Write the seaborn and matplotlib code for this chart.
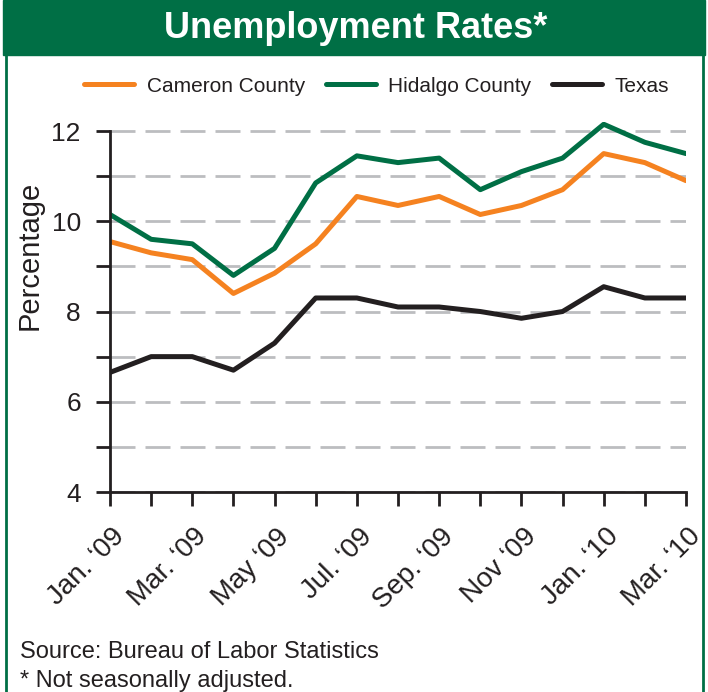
import pandas as pd
import matplotlib.pyplot as plt
import matplotlib.transforms as mtransforms
from matplotlib.patches import Rectangle
from matplotlib.lines import Line2D
import seaborn as sns

# Data (monthly, not seasonally adjusted)
months = ["Jan. ‘09", "Feb. ‘09", "Mar. ‘09", "Apr. ‘09", "May ‘09", "Jun. ‘09",
          "Jul. ‘09", "Aug. ‘09", "Sep. ‘09", "Oct. ‘09", "Nov ‘09", "Dec. ‘09",
          "Jan. ‘10", "Feb. ‘10", "Mar. ‘10"]
cameron = [9.55, 9.3, 9.15, 8.4, 8.85, 9.5, 10.55, 10.35, 10.55, 10.15, 10.35, 10.7, 11.5, 11.3, 10.9]
hidalgo = [10.15, 9.6, 9.5, 8.8, 9.4, 10.85, 11.45, 11.3, 11.4, 10.7, 11.1, 11.4, 12.15, 11.75, 11.5]
texas = [6.65, 7.0, 7.0, 6.7, 7.3, 8.3, 8.3, 8.1, 8.1, 8.0, 7.85, 8.0, 8.55, 8.3, 8.3]

series_names = ["Cameron County", "Hidalgo County", "Texas"]
series_colors = ["#F58220", "#006F45", "#231F20"]

df = pd.DataFrame({
    "month": list(range(len(months))) * 3,
    "rate": cameron + hidalgo + texas,
    "series": [n for n in series_names for _ in months],
})

sns.set_style("white")
plt.rcParams["font.family"] = ["Liberation Sans", "DejaVu Sans"]

green = "#006F45"
ink = "#231F20"

fig = plt.figure(figsize=(7.08, 6.92), dpi=100)
ax = fig.add_axes([110 / 708, 1 - 492 / 692, 576 / 708, 370 / 692])

sns.lineplot(data=df, x="month", y="rate", hue="series", hue_order=series_names,
             palette=series_colors, linewidth=3.6, ax=ax, zorder=3)

# axes styling
ax.set_xlim(0, len(months) - 1)
ax.set_ylim(4, 12.2)
ax.set_yticks([4, 6, 8, 10, 12])
ax.set_yticks([5, 7, 9, 11], minor=True)
ax.tick_params(axis="y", labelsize=19, pad=11)
ax.tick_params(axis="both", which="both", direction="out", length=10, width=2,
               color=ink, labelcolor=ink, left=True, bottom=True)
ax.set_xticks(range(len(months)))
ax.set_xticklabels([m if i % 2 == 0 else "" for i, m in enumerate(months)],
                   rotation=45, ha="right", va="center", rotation_mode="anchor", fontsize=20)
# shift the rotated month labels (after tick_params, which resets transforms)
offset = mtransforms.ScaledTranslation(11 / 100, -22 / 100, fig.dpi_scale_trans)
for lab in ax.get_xticklabels():
    lab.set_transform(lab.get_transform() + offset)
ax.grid(True, axis="y", which="both", color="#BCBDC0", linewidth=2, linestyle=(0, (9, 3.6)))
ax.grid(False, axis="x")
for s in ["top", "right"]:
    ax.spines[s].set_visible(False)
for s in ["left", "bottom"]:
    ax.spines[s].set_linewidth(2)
    ax.spines[s].set_color(ink)
    ax.spines[s].set_zorder(4)
ax.spines["left"].set_bounds(4, 12)
ax.set_xlabel("")
ax.set_ylabel("")
fig.text(30 / 708, 1 - 255 / 692, "Percentage", rotation=90, ha="center", va="center",
         fontsize=21, color=ink)

# legend across the top
handles, labels = ax.get_legend_handles_labels()
ax.get_legend().remove()
fig.legend(handles, labels, loc="center", bbox_to_anchor=(0.532, 1 - 86 / 692), ncol=3,
           frameon=False, fontsize=15, handlelength=2.4, handletextpad=0.6,
           columnspacing=1.0, labelcolor=ink)

# green header bar and frame
fig.patches.append(Rectangle((0.004, 1 - 55 / 692), 0.992, 55 / 692,
                             transform=fig.transFigure, color=green, zorder=0))
fig.lines.append(Line2D([6 / 708, 6 / 708], [0, 1], transform=fig.transFigure, color=green, lw=2))
fig.lines.append(Line2D([703 / 708, 703 / 708], [0, 1], transform=fig.transFigure, color=green, lw=2))
fig.text(0.503, 1 - 28 / 692, "Unemployment Rates*", ha="center", va="center",
         color="white", fontsize=26, fontweight="bold")

# footnotes
fig.text(20 / 708, 1 - 652 / 692, "Source: Bureau of Labor Statistics", ha="left",
         va="center", fontsize=17, color=ink)
fig.text(20 / 708, 1 - 681 / 692, "* Not seasonally adjusted.", ha="left",
         va="center", fontsize=17, color=ink)

fig.savefig("out.png", dpi=100)
